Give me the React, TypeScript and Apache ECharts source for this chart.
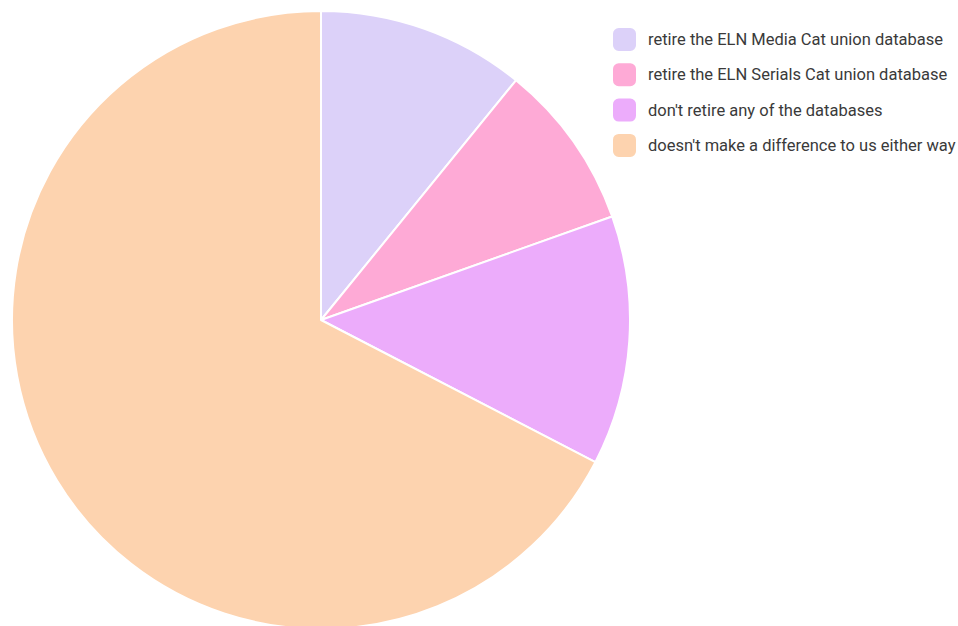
import React, { useEffect, useRef } from "react";
import * as echarts from "echarts";

const categories = [
  "retire the ELN Media Cat union database",
  "retire the ELN Serials Cat union database",
  "don't retire any of the databases",
  "doesn't make a difference to us either way",
];
const values = [5, 4, 6, 31];
const colors = ["#DCD1F9", "#FEAAD6", "#ECACFB", "#FDD3AF"];

export default function App() {
  const ref = useRef<HTMLDivElement>(null);
  useEffect(() => {
    if (!ref.current) return;
    const chart = echarts.init(ref.current, undefined, { renderer: "svg" });
    chart.setOption({
      animation: false,
      color: colors,
      legend: {
        orient: "vertical",
        left: 613,
        top: 28,
        padding: 0,
        itemWidth: 23,
        itemHeight: 23,
        itemGap: 12.3,
        icon: "roundRect",
        itemStyle: { borderWidth: 0 },
        textStyle: {
          fontFamily: "Roboto",
          fontSize: 16.5,
          lineHeight: 23,
          color: "#3a3a3a",
          padding: [0, 0, 0, 7],
        },
        data: categories,
      },
      series: [
        {
          type: "pie",
          center: [321, 320],
          radius: 309,
          startAngle: 90,
          clockwise: true,
          label: { show: false },
          labelLine: { show: false },
          itemStyle: { borderColor: "#fff", borderWidth: 2 },
          emphasis: { disabled: true },
          data: categories.map((name, i) => ({ name, value: values[i] })),
        },
      ],
    });
    return () => chart.dispose();
  }, []);
  return (
    <div
      ref={ref}
      style={{ position: "fixed", left: 0, top: 0, width: 958, height: 626, background: "#fff" }}
    />
  );
}
